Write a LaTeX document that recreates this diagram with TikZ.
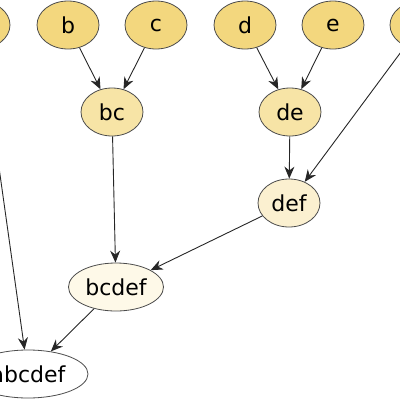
\documentclass[tikz,border=0pt]{standalone}
\usepackage{fontspec}
\setmainfont{DejaVu Sans}
\usetikzlibrary{shapes.geometric,arrows.meta}
\definecolor{leaf}{HTML}{F3D77E}
\definecolor{mid}{HTML}{F7E4A6}
\definecolor{upper}{HTML}{FBF0D0}
\definecolor{top}{HTML}{FEF9E8}
\begin{document}
\begin{tikzpicture}[x = 1pt, y = -1pt,
    knot/.style = {ellipse, draw = black!70, line width = .8pt, inner sep = 0pt,
      minimum width = 62pt, minimum height = 48pt, font = \fontsize{22}{24}\selectfont},
    link/.style = {draw = black!85, line width = .9pt, -{Stealth[length = 12pt, width = 10pt]}}]
      \useasboundingbox (0,0) rectangle (400,400);
      \clip (0,0) rectangle (400,400);
      \node [knot, fill = leaf] (a) at (-21,25) {a};
      \node [knot, fill = leaf] (b) at (68,25) {b};
      \node [knot, fill = leaf] (c) at (156,25) {c};
      \node [knot, fill = leaf] (d) at (245,25) {d};
      \node [knot, fill = leaf] (e) at (333,25) {e};
      \node [knot, fill = leaf] (f) at (421,25) {f};
      \node [knot, fill = mid] (bc) at (112,112) {bc};
      \node [knot, fill = mid] (de) at (290,112) {de};
      \node [knot, fill = upper] (def) at (289,203) {def};
      \node [knot, fill = top, minimum width = 95pt] (bcdef) at (116,287) {bcdef};
      \node [knot, fill = white, minimum width = 120pt] (abcdef) at (28,374) {abcdef};
      \draw [link] (b) -- (bc);
      \draw [link] (c) -- (bc);
      \draw [link] (d) -- (de);
      \draw [link] (e) -- (de);
      \draw [link] (de) -- (def);
      \draw [link] (f) -- (def);
      \draw [link] (bc) -- (bcdef);
      \draw [link] (def) -- (bcdef);
      \draw [link] (bcdef) -- (abcdef);
      \draw [link] (a) -- (abcdef);
    \end{tikzpicture}
\end{document}
